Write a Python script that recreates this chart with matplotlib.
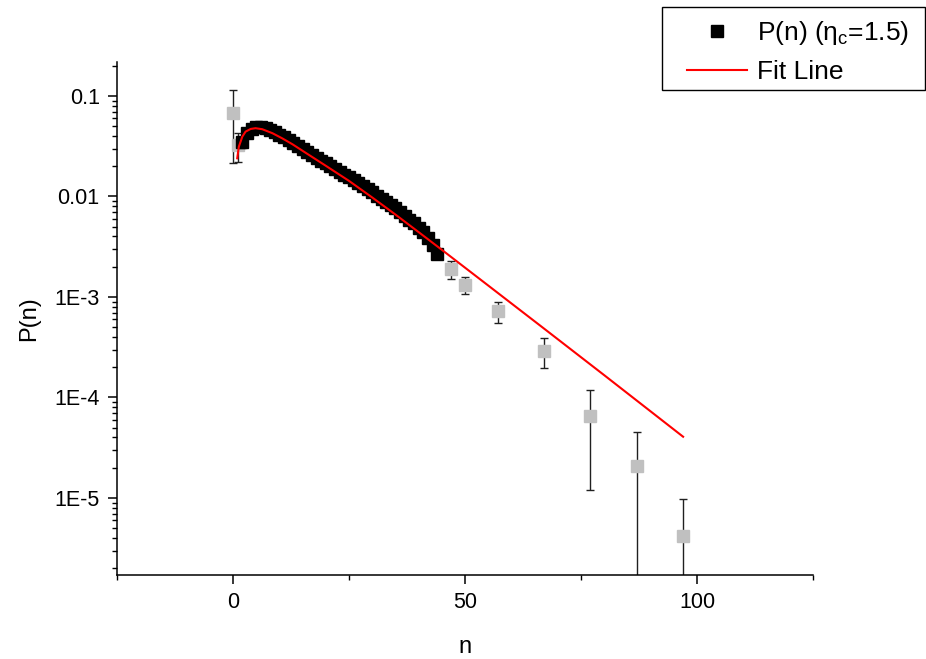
#!/usr/bin/env python
import matplotlib
matplotlib.use('Agg')
import matplotlib.pyplot as plt
from matplotlib.lines import Line2D
from matplotlib.patches import Rectangle
from matplotlib.ticker import FixedLocator, LogLocator, NullFormatter, FixedFormatter
import numpy as np

matplotlib.rc('font', family='Liberation Sans', size=15)
matplotlib.rc('mathtext', default='regular')

# main data points (black)
n_black = list(range(2, 45))
p_black = [0.035, 0.043, 0.047, 0.049, 0.049, 0.048, 0.046, 0.0437, 0.0412, 0.0388,
           0.0364, 0.0341, 0.0319, 0.0298, 0.0279, 0.0261, 0.0244, 0.0228, 0.0213, 0.0199,
           0.0186, 0.0174, 0.0162, 0.0156, 0.0146, 0.0136, 0.0127, 0.0118, 0.0110, 0.0102,
           0.0095, 0.0088, 0.0082, 0.0076, 0.0070, 0.0064, 0.0059, 0.0054, 0.0049, 0.0044,
           0.0039, 0.0033, 0.0027]
err_black = [0.0045, 0.004, 0.004, 0.004, 0.0038, 0.0036, 0.0034, 0.0032, 0.003, 0.0028,
             0.0026, 0.0024, 0.0023, 0.0021, 0.002, 0.0019, 0.0018, 0.0017, 0.0016, 0.0015,
             0.0014, 0.0013, 0.0012, 0.0012, 0.0011, 0.0011, 0.001, 0.00095, 0.0009, 0.00085,
             0.0008, 0.00075, 0.0007, 0.00066, 0.00062, 0.00058, 0.00054, 0.0005, 0.00046, 0.00042,
             0.00038, 0.00034, 0.0003]

# excluded points (grey)
n_grey = [0, 1, 47, 50, 57, 67, 77, 87, 97]
p_grey = [0.0677, 0.0325, 1.90e-3, 1.32e-3, 7.26e-4, 2.92e-4, 6.6e-5, 2.08e-5, 4.19e-6]
err_grey = [0.046, 0.0105, 4.0e-4, 2.6e-4, 1.7e-4, 9.5e-5, 5.4e-5, 2.43e-5, 5.5e-6]

# fit curve
n_fit = [0.9, 1.25, 2.0, 2.7, 3.8, 4.85, 6.3, 8.5, 10.6, 12.8, 15.6, 20, 25, 30,
         35, 40, 44.7, 55, 67, 80, 97]
p_fit = [0.0240, 0.0313, 0.0394, 0.0442, 0.0470, 0.0478, 0.0467, 0.0426, 0.0379, 0.0331,
         0.0273, 0.0202, 0.01429, 0.00977, 0.00661, 0.00442, 0.00302, 0.00130, 4.86e-4,
         1.667e-4, 4.07e-5]

yticks = [0.1, 0.01, 1e-3, 1e-4, 1e-5]
ytick_labels = ['0.1', '0.01', '1E-3', '1E-4', '1E-5']

W, H = 926, 659
fig = plt.figure(figsize=(W/100, H/100), dpi=100)
ax = fig.add_axes([0.1264, 0.1275, 0.7516, 0.7784])

ax.errorbar(n_grey, p_grey, yerr=err_grey, fmt='s', color='#c0c0c0', ms=8,
            mec='#c0c0c0', ecolor='#202020', elinewidth=1, capsize=3, capthick=1,
            zorder=2)
ax.errorbar(n_black, p_black, yerr=err_black, fmt='s', color='black', ms=8,
            ecolor='black', elinewidth=1, capsize=3, capthick=1, zorder=3)
ax.plot(n_fit, p_fit, color='#ff0000', lw=1.5, zorder=4)

ax.set_yscale('log')
ax.set_xlim(-25, 125)
ax.set_ylim(1.714e-6, 0.2178)

ax.xaxis.set_major_locator(FixedLocator([0, 50, 100]))
ax.xaxis.set_minor_locator(FixedLocator([-25, 25, 75, 125]))
ax.yaxis.set_major_locator(FixedLocator(yticks))
ax.yaxis.set_major_formatter(FixedFormatter(ytick_labels))
ax.yaxis.set_minor_locator(LogLocator(base=10, subs=np.arange(2, 10)))
ax.yaxis.set_minor_formatter(NullFormatter())

ax.spines['top'].set_visible(False)
ax.spines['right'].set_visible(False)
for s in ['left', 'bottom']:
    ax.spines[s].set_linewidth(1.1)
ax.tick_params(which='major', direction='out', length=6.5, width=1.1, labelsize=15.5, pad=6)
ax.tick_params(which='minor', direction='out', length=3.6, width=1.0)

ax.set_xlabel('n', fontsize=17, labelpad=16)
ax.set_ylabel('P(n)', fontsize=17, labelpad=10)

# legend sits in the top right corner of the figure, box drawn by hand
handles = [Line2D([], [], ls='none', marker='s', color='black', ms=8),
           Line2D([], [], color='#ff0000', lw=1.5)]
labels = ['P(n) (η$_c$=1.5)', 'Fit Line']
leg = fig.legend(handles, labels, loc='upper left', bbox_to_anchor=(687/W, 1-19/H),
                 bbox_transform=fig.transFigure, frameon=False, fontsize=19,
                 handlelength=2.27, handletextpad=0.38, labelspacing=0.5,
                 borderpad=0, borderaxespad=0)
fig.patches.append(Rectangle((662/W, 1-90/H), 263/W, 83/H, transform=fig.transFigure,
                             fill=False, edgecolor='black', lw=1.0, zorder=5))

plt.savefig('out.png', dpi=100)
